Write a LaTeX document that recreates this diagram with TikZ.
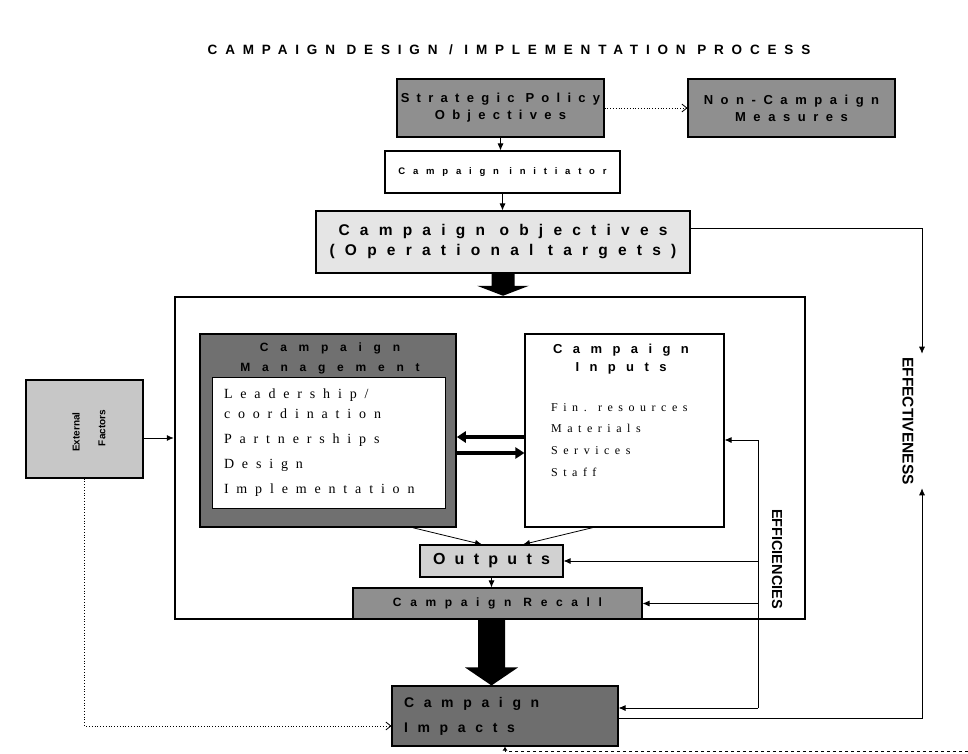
\documentclass[tikz,border=0pt]{standalone}
\usepackage{fontspec}
\setmainfont{Liberation Serif}
\setsansfont{Liberation Sans}
\usepackage{tikz}
\usetikzlibrary{calc,positioning,arrows.meta}

\definecolor{policygray}{gray}{0.56}
\definecolor{objgray}{gray}{0.90}
\definecolor{mgmtgray}{gray}{0.44}
\definecolor{outgray}{gray}{0.82}
\definecolor{recallgray}{gray}{0.56}
\definecolor{impgray}{gray}{0.43}
\definecolor{extgray}{gray}{0.78}

% bold sans with letter spacing: size, skip, spacing
\newcommand{\bsf}[3]{\fontsize{#1}{#2}\sffamily\bfseries\selectfont\addfontfeatures{LetterSpace=#3}}
% serif list text: size, skip, spacing
\newcommand{\srf}[3]{\fontsize{#1}{#2}\rmfamily\selectfont\addfontfeatures{LetterSpace=#3}}

\begin{document}
\begin{tikzpicture}[x=1pt,y=-1pt,
    box/.style={draw=black, line width=1.1pt, inner sep=0pt},
    tip/.style={line width=0.8pt, -{Latex[length=7pt,width=6pt]}},
    opentip/.style={line width=0.8pt, -{Straight Barb[length=5pt,width=8pt]}},
    thickarrow/.style={line width=4pt, -{Triangle[length=9pt,width=11pt]}}]

\useasboundingbox (0,0) rectangle (968,754);

\node[font=\bsf{13.5}{16}{58}] (title) at (509,50) {CAMPAIGN DESIGN / IMPLEMENTATION PROCESS};

% Top row of boxes
\node[box, fill=policygray, minimum width=207pt, minimum height=58pt, align=center, font=\bsf{13}{17}{56}] (policy) at (500.5,108) {Strategic Policy\\Objectives};
\node[box, fill=policygray, minimum width=207pt, minimum height=58pt, align=center, font=\bsf{13}{17}{58}] (noncamp) at (791.5,108) {Non-Campaign\\Measures};
\node[box, fill=white, minimum width=235pt, minimum height=42pt, font=\bsf{9.5}{11}{82}] (initiator) at (502.5,172) {Campaign initiator};
\node[box, fill=objgray, minimum width=374pt, minimum height=62pt, align=center, font=\bsf{15.5}{20}{66}] (objectives) at (503,242) {Campaign objectives\\(Operational targets)};

% Frame with management and inputs
\node[draw=black, line width=2.5pt, minimum width=630pt, minimum height=322pt] (frame) at (490,458) {};
\node[box, line width=1.5pt, fill=mgmtgray, minimum width=256pt, minimum height=193pt] (mgmt) at (328,430.5) {};
\node[align=center, font=\bsf{12}{20}{98}] (mgmttitle) at (330,358) {Campaign\\Management};
\node[fill=white, draw=black, line width=0.6pt, text width=209pt, inner xsep=12pt, minimum height=131pt, align=left, font=\srf{14}{20}{56}] (mgmtlist) at (328.5,442.5)
    {Leadership/\\coordination\\[5pt]Partnerships\\[5pt]Design\\[5pt]Implementation};

\node[box, fill=white, minimum width=199pt, minimum height=193pt] (inputs) at (624.5,430.5) {};
\node[align=center, font=\bsf{13}{18}{80}] (inputstitle) at (621,359) {Campaign\\Inputs};
\node[anchor=north west, inner sep=0pt, align=left, font=\srf{12}{21.7}{46}] (inputslist) at (551,403)
    {Fin. resources\\Materials\\Services\\Staff};

\node[box, fill=outgray, minimum width=143pt, minimum height=32pt, font=\bsf{16}{18}{58}] (outputs) at (491.5,561) {Outputs};
\node[box, fill=recallgray, minimum width=289pt, minimum height=31pt, font=\bsf{12}{14}{72}] (recall) at (497.5,603.5) {Campaign Recall};
\node[box, fill=impgray, text width=202pt, inner xsep=12pt, minimum height=60pt, align=left, font=\bsf{14}{25}{69}] (impacts) at (505,716) {Campaign\\Impacts};

% External factors
\node[box, fill=extgray, minimum width=117pt, minimum height=98pt] (external) at (84.5,429) {};
\node[rotate=90, font=\bsf{10}{12}{0}] (extword) at (76,432) {External};
\node[rotate=90, font=\bsf{10}{12}{0}] (facword) at (102,428) {Factors};

\node[rotate=-90, font=\bsf{15.5}{16}{0}] (effectiveness) at (908,421) {EFFECTIVENESS};
\node[rotate=-90, font=\bsf{14.5}{16}{0}] (efficiencies) at (777,559) {EFFICIENCIES};

% Connectors at the top
\draw[dotted, opentip] (policy.east) -- (noncamp.west);
\draw[tip] (policy.south) -- (policy.south |- initiator.north);
\draw[tip] (initiator.south) -- (initiator.south |- objectives.north);
\fill ($(objectives.south)+(-11.5,0)$) -- ($(objectives.south)+(11.5,0)$)
    -- ($(objectives.south |- frame.north)+(11.5,-10)$) -- ($(objectives.south |- frame.north)+(26,-10)$)
    -- (objectives.south |- frame.north)
    -- ($(objectives.south |- frame.north)+(-26,-10)$) -- ($(objectives.south |- frame.north)+(-11.5,-10)$) -- cycle;

% Inside the frame
\draw[thickarrow] ([yshift=-6.5pt]inputs.west) -- ([yshift=-6.5pt]mgmt.east);
\draw[thickarrow] ([yshift=-22.5pt]mgmt.east) -- ([yshift=-22.5pt]inputs.west);
\draw[tip] ([xshift=85pt]mgmt.south) -- ([xshift=-9.5pt]outputs.north);
\draw[tip] ([xshift=-31.5pt]inputs.south) -- ([xshift=31.5pt]outputs.north);
\draw[tip] (outputs.south) -- (outputs.south |- recall.north);

% Big arrow to the impacts
\fill ($(recall.south -| outputs)+(-13.5,0)$) -- ($(recall.south -| outputs)+(13.5,0)$)
    -- ($(impacts.north -| outputs)+(13.5,-18)$) -- ($(impacts.north -| outputs)+(26.5,-18)$)
    -- (impacts.north -| outputs)
    -- ($(impacts.north -| outputs)+(-26.5,-18)$) -- ($(impacts.north -| outputs)+(-13.5,-18)$) -- cycle;

% Efficiencies loop
\coordinate (effbot) at (758,708);
\coordinate (efftop) at (758,440);
\draw[line width=0.8pt] (effbot) -- (efftop);
\draw[tip] (efftop) -- (efftop -| inputs.east);
\draw[tip] (outputs.east -| effbot) -- (outputs.east);
\draw[tip] (recall.east -| effbot) -- (recall.east);
\draw[tip] (effbot) -- (effbot -| impacts.east);

% Effectiveness loop
\coordinate (rtop) at (922,228);
\coordinate (rbot) at (922,718);
\draw[tip] ([yshift=14pt]objectives.east) -- (rtop) -- (rtop |- effectiveness.west);
\draw[tip] (rbot -| impacts.east) -- (rbot) -- (rbot |- effectiveness.east);

% External factors links
\coordinate (extout) at ([yshift=-9pt]external.east);
\draw[tip] (extout) -- (extout -| frame.west);
\draw[dotted, opentip] (external.south) |- ([yshift=-10pt]impacts.west);

% Dashed line along the bottom
\coordinate (pageedge) at (968,751);
\draw[dashed, line width=0.8pt, -{Latex[length=4pt,width=5pt]}] (pageedge) -| (impacts.south);

\end{tikzpicture}
\end{document}
